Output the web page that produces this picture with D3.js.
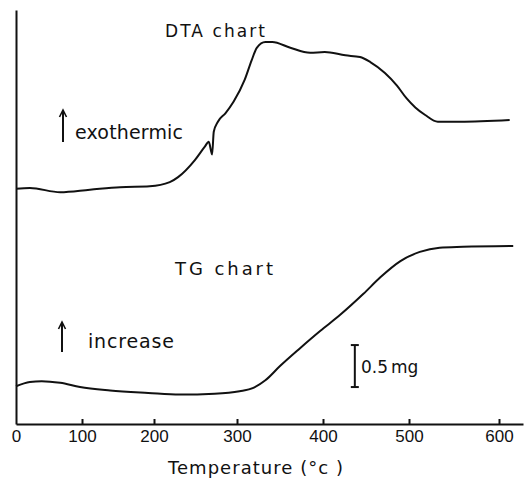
<!DOCTYPE html>
<html>
<head>
<meta charset="utf-8">
<script src="https://cdn.jsdelivr.net/npm/d3@7"></script>
<style>
  html, body { margin: 0; padding: 0; background: #fff; }
  svg { display: block; }
  text { font-family: "DejaVu Sans", "Liberation Sans", Arial, sans-serif; fill: #111; }
</style>
</head>
<body>
<svg id="chart" width="528" height="482"></svg>
<script>
// ---- data (temperature in °C, deflection in mg-equivalent chart units) ----
const tickTemps = [0, 100, 200, 300, 400, 500, 600];
const tickLabels = ["0", "100", "200", "300", "400", "500", "600"];

const dtaTemp = [0, 21, 67, 111, 153, 194, 219, 229, 249, 261, 266, 270, 272, 277, 286, 296,
                 309, 317, 323, 333, 341, 362, 385, 402, 426, 443, 455, 472, 486, 497, 507, 518, 532, 557, 612];
const dtaValue = [2.80, 2.81, 2.76, 2.79, 2.82, 2.83, 2.88, 2.94, 3.14, 3.30, 3.36, 3.21, 3.48, 3.60, 3.70, 3.84,
                  4.10, 4.33, 4.48, 4.55, 4.55, 4.48, 4.42, 4.43, 4.39, 4.37, 4.31, 4.18, 4.03, 3.88, 3.77, 3.68, 3.60, 3.60, 3.62];

const tgTemp = [0, 21, 39, 67, 97, 139, 192, 231, 273, 303, 319, 333, 350, 373, 397, 420, 447, 467, 490, 512, 534, 560, 616];
const tgValue = [0.45, 0.50, 0.51, 0.49, 0.44, 0.40, 0.37, 0.35, 0.36, 0.39, 0.43, 0.52, 0.69, 0.90, 1.11, 1.30, 1.55,
                 1.75, 1.94, 2.05, 2.10, 2.11, 2.12];

const scaleBarMg = 0.5;      // length of the 0.5 mg scale bar
const scaleBarBase = 0.44;   // bottom of scale bar (chart units)
const scaleBarTemp = 437;    // temperature position of scale bar

// ---- scales (hand-drawn axis: tick spacing is uneven, so piecewise linear) ----
const x = d3.scaleLinear()
  .domain([0, 100, 200, 300, 400, 500, 600, 627])
  .range([16, 82, 154, 237, 323, 409, 499, 523]);
const y = d3.scaleLinear().domain([0, 4.93]).range([424, 10]);

const svg = d3.select("#chart");

// ---- axes ----
const xAxis = d3.axisBottom(x)
  .tickValues(tickTemps)
  .tickFormat((d, i) => tickLabels[i])
  .tickSizeInner(-5)
  .tickSizeOuter(0)
  .tickPadding(6);
const gx = svg.append("g").attr("transform", `translate(0,${y(0)})`).call(xAxis);
gx.select(".domain").attr("stroke", "#111").attr("stroke-width", 2);
gx.selectAll(".tick line").attr("stroke", "#111").attr("stroke-width", 2);
gx.selectAll(".tick text")
  .style("font-family", "'Liberation Sans', Arial, sans-serif")
  .style("font-size", "17px").attr("fill", "#111");
gx.selectAll(".tick").filter(d => d === 0).select("line").remove();

const yAxis = d3.axisLeft(y).tickValues([]).tickSizeOuter(0);
const gy = svg.append("g").attr("transform", `translate(${x(0)},0)`).call(yAxis);
gy.select(".domain").attr("stroke", "#111").attr("stroke-width", 2);

// ---- curves ----
const line = d3.line().x(d => x(d[0])).y(d => y(d[1])).curve(d3.curveMonotoneX);
const dta = dtaTemp.map((t, i) => [t, dtaValue[i]]);
const tg = tgTemp.map((t, i) => [t, tgValue[i]]);

svg.append("path").datum(dta).attr("d", line)
  .attr("fill", "none").attr("stroke", "#111").attr("stroke-width", 2).attr("stroke-linejoin", "round");
svg.append("path").datum(tg).attr("d", line)
  .attr("fill", "none").attr("stroke", "#111").attr("stroke-width", 2).attr("stroke-linejoin", "round");

// ---- annotations ----
function label(txt, px, py, size, len) {
  const t = svg.append("text").attr("x", px).attr("y", py)
    .style("font-size", size + "px").text(txt);
  if (len) t.attr("textLength", len).attr("lengthAdjust", "spacing");
  return t;
}
function upArrow(px, y0, y1) {
  svg.append("line").attr("x1", px).attr("x2", px).attr("y1", y0).attr("y2", y1 + 1)
    .attr("stroke", "#111").attr("stroke-width", 2);
  svg.append("path").attr("d", `M${px - 3.5},${y1 + 7} L${px},${y1} L${px + 3.5},${y1 + 7}`)
    .attr("fill", "none").attr("stroke", "#111").attr("stroke-width", 1.6);
}

label("DTA chart", 165, 37, 17, 100);
upArrow(63, 142, 110);
label("exothermic", 75, 139, 19, 108);

label("TG chart", 175, 275, 18, 98);
upArrow(62, 352, 322);
label("increase", 88, 348, 19, 86);

// scale bar 0.5 mg
const sbx = x(scaleBarTemp);
const sbTop = y(scaleBarBase + scaleBarMg), sbBot = y(scaleBarBase);
svg.append("line").attr("x1", sbx).attr("x2", sbx).attr("y1", sbTop).attr("y2", sbBot)
  .attr("stroke", "#111").attr("stroke-width", 2);
[sbTop, sbBot].forEach(v => svg.append("line")
  .attr("x1", sbx - 4).attr("x2", sbx + 4).attr("y1", v).attr("y2", v)
  .attr("stroke", "#111").attr("stroke-width", 2));
const sbLabel = svg.append("text").attr("x", 361).attr("y", 373).style("font-size", "17px");
sbLabel.append("tspan").text("0.5");
sbLabel.append("tspan").attr("dx", 3).text("mg");

// x-axis title
label("Temperature (°c )", 168, 474, 18, 175);
</script>
</body>
</html>
